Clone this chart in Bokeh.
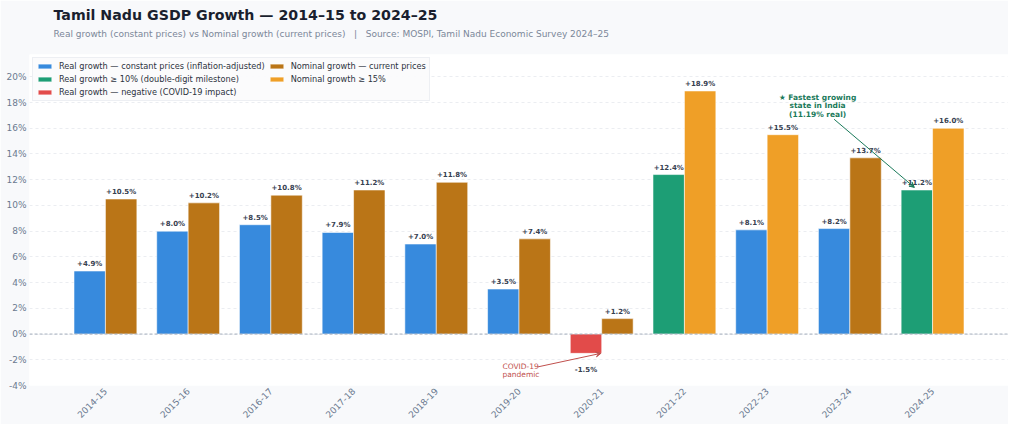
import math
from bokeh.plotting import figure
from bokeh.models import (ColumnDataSource, Range1d, FixedTicker, PrintfTickFormatter,
                          Span, Label, Arrow, VeeHead, Legend, LegendItem, Title)
from bokeh.embed import file_html
from bokeh.resources import INLINE
from bokeh.core.properties import value

# ---------------- data ----------------
years = ["2014-15", "2015-16", "2016-17", "2017-18", "2018-19", "2019-20",
         "2020-21", "2021-22", "2022-23", "2023-24", "2024-25"]
real_growth = [4.9, 8.0, 8.5, 7.9, 7.0, 3.5, -1.5, 12.4, 8.1, 8.2, 11.2]
nominal_growth = [10.5, 10.2, 10.8, 11.2, 11.8, 7.4, 1.2, 18.9, 15.5, 13.7, 16.0]
y_ticks = [-4, -2, 0, 2, 4, 6, 8, 10, 12, 14, 16, 18, 20]

FONT = "DejaVu Sans"
BLUE, GREEN, RED = "#378ADD", "#1D9E75", "#E24B4A"
AMBER, ORANGE = "#BA7517", "#EF9F27"
BW = 0.38
OFF = BW / 2
Y0, Y1 = -4, 21.735

p = figure(width=1008, height=424, output_backend="svg", toolbar_location=None,
           title=None,
           x_range=Range1d(-0.918, 10.918), y_range=Range1d(Y0, Y1),
           min_border_left=29, min_border_right=0, min_border_top=54,
           min_border_bottom=30)
p.background_fill_color = "white"
p.border_fill_color = "#f8f9fb"
p.outline_line_color = None

# ---------------- bars ----------------
def group(xs, vals, cond):
    d = {"x": [], "top": []}
    for x, v in zip(xs, vals):
        if cond(v):
            d["x"].append(x)
            d["top"].append(v)
    return ColumnDataSource(d)

idx = list(range(len(years)))
xr = [i - OFF for i in idx]
xn = [i + OFF for i in idx]

bar_kw = dict(width=BW, bottom=0, line_color="white", line_width=0.8, line_alpha=0.7)
r_blue = p.vbar(x="x", top="top", source=group(xr, real_growth, lambda v: 0 <= v < 10), fill_color=BLUE, **bar_kw)
r_green = p.vbar(x="x", top="top", source=group(xr, real_growth, lambda v: v >= 10), fill_color=GREEN, **bar_kw)
r_red = p.vbar(x="x", top="top", source=group(xr, real_growth, lambda v: v < 0), fill_color=RED, **bar_kw)
r_amber = p.vbar(x="x", top="top", source=group(xn, nominal_growth, lambda v: v < 15), fill_color=AMBER, **bar_kw)
r_orange = p.vbar(x="x", top="top", source=group(xn, nominal_growth, lambda v: v >= 15), fill_color=ORANGE, **bar_kw)

# ---------------- value labels ----------------
pos = {"x": [], "y": [], "t": []}
neg = {"x": [], "y": [], "t": []}
for xs, vals in ((xr, real_growth), (xn, nominal_growth)):
    for x, v in zip(xs, vals):
        d = pos if v >= 0 else neg
        d["x"].append(x)
        d["y"].append(v)
        d["t"].append(f"{v:+.1f}%")

lab_kw = dict(text="t", text_align="center", text_font=value(FONT), text_font_style="bold",
              text_font_size="7px", text_color="#374151")
p.text(x="x", y="y", source=ColumnDataSource(pos), text_baseline="bottom", y_offset=-3, **lab_kw)
p.text(x="x", y="y", source=ColumnDataSource(neg), text_baseline="top", y_offset=13, **lab_kw)

# zero line
p.add_layout(Span(location=0, dimension="width", line_color="#9aa5b5",
                  line_dash="3 2", line_width=0.9))

# ---------------- annotations ----------------
GTXT = "#1a7a5a"
p.add_layout(Label(x=8.61, y=18.75, text="★ Fastest growing\nstate in India\n(11.19% real)",
                   text_align="center", text_baseline="top", text_font=FONT,
                   text_font_style="bold", text_font_size="7.5px", text_color=GTXT,
                   text_line_height=0.95))
i25 = years.index("2024-25")
p.add_layout(Arrow(end=VeeHead(size=5, fill_color=GTXT, line_color=GTXT),
                   x_start=8.81, y_start=16.7,
                   x_end=i25 - OFF - 0.03, y_end=real_growth[i25] + 0.2,
                   line_color=GTXT, line_width=1))

RTXT = "#c0504d"
i20 = years.index("2020-21")
p.add_layout(Label(x=4.80, y=-2.15, text="COVID-19\npandemic", text_align="left",
                   text_baseline="top", text_font=FONT, text_font_size="7.5px",
                   text_color=RTXT, text_line_height=0.9))
p.add_layout(Arrow(end=VeeHead(size=5, fill_color=RTXT, line_color=RTXT),
                   x_start=5.23, y_start=-2.55,
                   x_end=i20 - 0.01, y_end=real_growth[i20],
                   line_color=RTXT, line_width=1))

# ---------------- axes & grid ----------------
p.xgrid.visible = False
p.ygrid.ticker = FixedTicker(ticks=y_ticks)
p.ygrid.grid_line_color = "#e6e9ee"
p.ygrid.grid_line_dash = "3 3"
p.ygrid.grid_line_width = 0.8

p.yaxis.ticker = FixedTicker(ticks=y_ticks)
p.yaxis.formatter = PrintfTickFormatter(format="%d%%")
p.xaxis.ticker = FixedTicker(ticks=idx)
p.xaxis.major_label_overrides = {i: y for i, y in enumerate(years)}
p.xaxis.major_label_orientation = math.pi / 4
for ax in (p.xaxis, p.yaxis):
    ax.axis_line_color = None
    ax.major_tick_line_color = None
    ax.minor_tick_line_color = None
    ax.major_tick_out = 0
    ax.major_tick_in = 0
    ax.major_label_text_font = FONT
    ax.major_label_text_font_size = "9px"
    ax.major_label_text_color = "#6b7a90"
p.yaxis.major_label_standoff = 3
p.xaxis.major_label_standoff = 4

# ---------------- legend ----------------
legend = Legend(items=[
    LegendItem(label="Real growth — constant prices (inflation-adjusted)", renderers=[r_blue]),
    LegendItem(label="Real growth ≥ 10% (double-digit milestone)", renderers=[r_green]),
    LegendItem(label="Real growth — negative (COVID-19 impact)", renderers=[r_red]),
    LegendItem(label="Nominal growth — current prices", renderers=[r_amber]),
    LegendItem(label="Nominal growth ≥ 15%", renderers=[r_orange]),
], location="top_left", orientation="vertical", ncols=2)
legend.label_text_font = FONT
legend.label_text_font_size = "8.2px"
legend.label_text_color = "#2d3340"
legend.glyph_width = 17
legend.glyph_height = 6
legend.label_height = 9
legend.label_standoff = 6
legend.spacing = 3
legend.padding = 3
legend.margin = 3
legend.border_line_color = "#dfe4ea"
legend.background_fill_color = "#fbfbfc"
legend.background_fill_alpha = 0.95
p.add_layout(legend)

# ---------------- titles ----------------
sub = Title(text="Real growth (constant prices) vs Nominal growth (current prices) \u00a0\u00a0|\u00a0\u00a0 Source: MOSPI, Tamil Nadu Economic Survey 2024–25",
            text_font=FONT, text_font_size="9px", text_font_style="normal",
            text_color="#7b8799", align="left", offset=24, standoff=28,
            vertical_align="top")
main = Title(text="Tamil Nadu GSDP Growth — 2014–15 to 2024–25",
             text_font=FONT, text_font_size="14.2px", text_font_style="bold",
             text_color="#1a1f2e", align="left", offset=24, standoff=-16,
             vertical_align="bottom")
p.add_layout(sub, "above")
p.add_layout(main, "above")

open("out.html", "w").write(file_html(p, INLINE))
